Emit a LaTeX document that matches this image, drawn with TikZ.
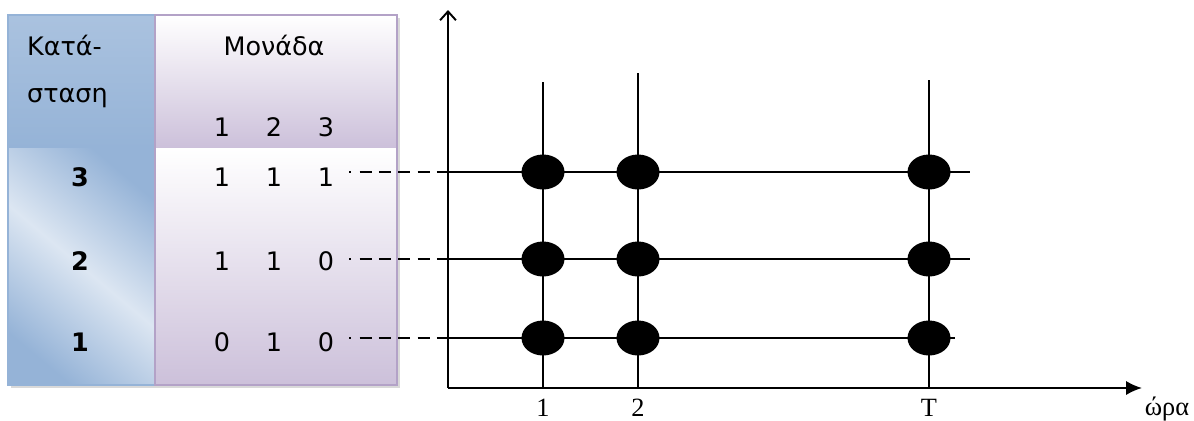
\documentclass[tikz,border=0pt]{standalone}
\usepackage{fontspec}
\setmainfont{Liberation Serif}
\newfontfamily\tabfont{DejaVu Sans}
\usetikzlibrary{shapes.geometric,arrows.meta}
\definecolor{blueDark}{HTML}{4F81BD}
\definecolor{blueMid}{HTML}{95B3D7}
\definecolor{blueLight}{HTML}{DCE6F2}
\definecolor{lilac}{HTML}{CCC0DA}
\definecolor{lilacEdge}{HTML}{B3A2C7}

\begin{document}
\begin{tikzpicture}[x=0.02cm,y=-0.02cm,
  cell/.style={font=\tabfont\fontsize{14.5}{17}\selectfont,inner sep=1pt},
  head/.style={cell,font=\tabfont\bfseries\fontsize{14.5}{17}\selectfont},
  tick/.style={font=\fontsize{15}{17}\selectfont,inner sep=1pt},
  grid/.style={line width=0.8pt},
  axis/.style={line width=1.1pt},
  dot/.style={ellipse,fill=black,minimum width=0.86cm,minimum height=0.7cm,inner sep=0pt}]
\useasboundingbox (0,0) rectangle (1194,420);

% table
\fill[black!15] (11,18) rectangle (400,388);
\shade[top color=blueMid!80,middle color=blueDark,bottom color=blueMid] (8,15) rectangle (155,148);
\shade[left color=blueMid,right color=blueMid,middle color=blueLight,shading angle=-40] (8,148) rectangle (155,385);
\shade[top color=white,bottom color=lilac] (155,15) rectangle (397,148);
\shade[top color=white,bottom color=lilac] (155,148) rectangle (397,385);
\draw[blueMid,line width=0.8pt] (8,15) rectangle (155,385);
\draw[lilacEdge,line width=0.8pt] (155,15) rectangle (397,385);

\node[cell,anchor=west] (kat1) at (25,45) {Κατά-};
\node[cell,anchor=west] (kat2) at (25,98) {σταση};
\node[cell] (mon) at (274,45) {Μονάδα};
\node[cell] (u1) at (222,127) {1};
\node[cell] (u2) at (274,127) {2};
\node[cell] (u3) at (326,127) {3};

\foreach \r/\y/\a/\b/\c in {3/177/1/1/1, 2/261/1/1/0, 1/342/0/1/0} {
  \node[head] (s\r) at (80,\y) {\r};
  \node[cell] (v\r a) at (222,\y) {\a};
  \node[cell] (v\r b) at (274,\y) {\b};
  \node[cell] (v\r c) at (326,\y) {\c};
}

% axes
\coordinate (O) at (448,388);
\coordinate (ytop) at (448,10);
\coordinate (xend) at (1142,388);
\draw[axis,-{Straight Barb[length=5pt,width=9pt]}] (O) -- (ytop);
\draw[axis,-{Latex[length=9pt,width=8pt]}] (O) -- (xend);

% time lines
\foreach \c/\x/\t in {a/543/82, b/638/73, c/929/80} {
  \coordinate (top\c) at (\x,\t);
  \coordinate (bot\c) at (\x,388);
  \draw[grid] (top\c) -- (bot\c);
}

% state lines
\foreach \r/\y/\e in {3/172/970, 2/259/970, 1/338/955} {
  \coordinate (dash\r) at (349,\y);
  \coordinate (row\r) at (448,\y);
  \coordinate (end\r) at (\e,\y);
  \draw[grid,dash pattern=on 1pt off 5pt on 7pt off 4pt on 7pt off 4pt on 7pt off 4pt on 7pt off 4pt on 7pt off 4pt]
    (dash\r) -- (row\r);
  \draw[grid] (row\r) -- (end\r);
  \foreach \c in {a,b,c}
    \node[dot] (d\r\c) at (top\c |- row\r) {};
}

\node[tick] (t1) at (543,408) {1};
\node[tick] (t2) at (638,408) {2};
\node[tick] (tT) at (929,408) {T};
\node[tick] (hour) at (1167,409) {ώρα};
\end{tikzpicture}
\end{document}
